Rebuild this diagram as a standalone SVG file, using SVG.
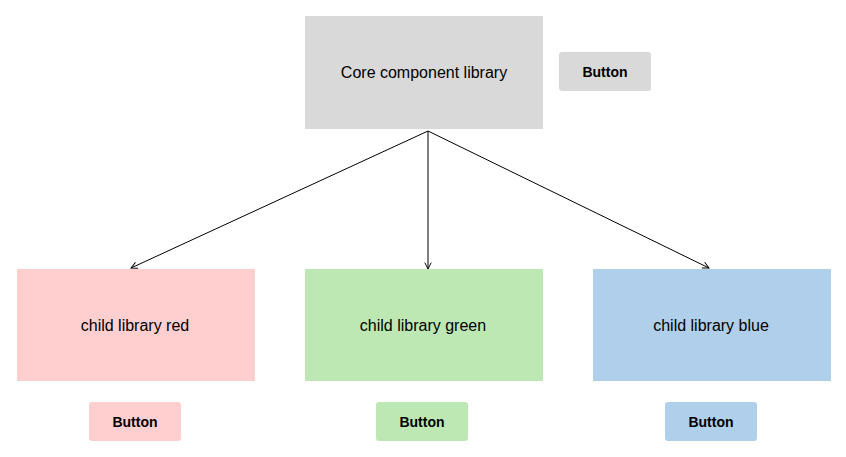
<svg xmlns="http://www.w3.org/2000/svg" width="846" height="457" viewBox="0 0 846 457">
<style>
.lbl{font-family:"Helvetica","Liberation Sans",Arial,sans-serif;font-size:16px;fill:#000;text-anchor:middle;dominant-baseline:central}
.btn{font-family:"Helvetica","Liberation Sans",Arial,sans-serif;font-size:14px;font-weight:bold;fill:#000;text-anchor:middle;dominant-baseline:central}
.edge{stroke:#000;stroke-width:1;fill:none;marker-end:url(#arr)}
</style>
<defs>
<marker id="arr" viewBox="0 0 10 10" refX="9" refY="5" markerWidth="8" markerHeight="8" markerUnits="userSpaceOnUse" orient="auto">
<path d="M1,1 L9,5 L1,9" fill="none" stroke="#000" stroke-width="1.2"/>
</marker>
</defs>
<rect width="846" height="457" fill="#fff"/>
<g id="core">
<rect x="305" y="16" width="238" height="113" fill="#d9d9d9"/>
<text class="lbl" x="424" y="72">Core component library</text>
</g>
<g id="core-button">
<rect x="559" y="52" width="92" height="39" rx="3" fill="#d9d9d9"/>
<text class="btn" x="605" y="72">Button</text>
</g>
<g id="red">
<rect x="17" y="269" width="238" height="112" fill="#ffcfcf"/>
<text class="lbl" x="135" y="325">child library red</text>
</g>
<g id="green">
<rect x="305" y="269" width="238" height="112" fill="#bde8b3"/>
<text class="lbl" x="423" y="325">child library green</text>
</g>
<g id="blue">
<rect x="593" y="269" width="238" height="112" fill="#b0cfeb"/>
<text class="lbl" x="711" y="325">child library blue</text>
</g>
<g id="red-button">
<rect x="89" y="402" width="92" height="39" rx="3" fill="#ffcfcf"/>
<text class="btn" x="135" y="422">Button</text>
</g>
<g id="green-button">
<rect x="376" y="402" width="92" height="39" rx="3" fill="#bde8b3"/>
<text class="btn" x="422" y="422">Button</text>
</g>
<g id="blue-button">
<rect x="665" y="402" width="92" height="39" rx="3" fill="#b0cfeb"/>
<text class="btn" x="711" y="422">Button</text>
</g>
<g id="connectors">
<line class="edge" x1="428" y1="131" x2="131" y2="268"/>
<line class="edge" x1="428" y1="131" x2="428" y2="269"/>
<line class="edge" x1="428" y1="131" x2="709" y2="268"/>
</g>
</svg>
